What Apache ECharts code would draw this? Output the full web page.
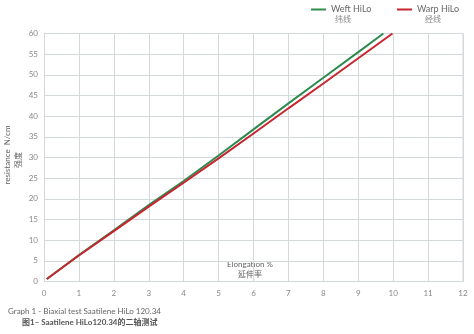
<!DOCTYPE html>
<html><head><meta charset="utf-8">
<script src="https://cdn.jsdelivr.net/npm/echarts@6/dist/echarts.min.js"></script>
<style>html,body{margin:0;padding:0;background:#fff}#c{width:474px;height:334px}</style>
</head><body><div id="c"></div>
<script>
var weftX = [0.08, 1, 2, 3, 4, 5, 6, 7, 8, 9, 9.72];
var weftY = [0.6, 6.4, 12.4, 18.5, 24.3, 30.5, 36.8, 43.1, 49.3, 55.5, 60];
var warpX = [0.08, 1, 2, 3, 4, 5, 6, 7, 8, 9, 9.98];
var warpY = [0.6, 6.3, 12.2, 18.1, 23.9, 29.8, 35.8, 41.9, 47.9, 54.0, 60];
var seriesNames = ['Weft HiLo', 'Warp HiLo'];
var seriesNamesZh = ['纬线', '经线'];
var xTitle = 'Elongation %';
var xTitleZh = '延伸率';
var yTitle = 'resistance  N/cm';
var yTitleZh = '强度';
var caption1 = 'Graph 1 - Biaxial test Saatilene HiLo 120.34';
var caption2 = '图1– Saatilene HiLo120.34的二轴测试';

function zip(a, b) { return a.map(function (v, i) { return [v, b[i]]; }); }
var font = 'Lato, "Noto Sans CJK SC", sans-serif';
var legendBase = {
  top: 0, itemWidth: 15, itemHeight: 2, icon: 'rect',
  textStyle: { color: '#666', fontSize: 9, fontFamily: font }
};
var chart = echarts.init(document.getElementById('c'));
chart.setOption({
  animation: false,
  textStyle: { fontFamily: font },
  grid: { left: 44, right: 11, top: 33.5, bottom: 52.5 },
  legend: [
    Object.assign({}, legendBase, { left: 306, data: [seriesNames[0]] }),
    Object.assign({}, legendBase, { left: 392, data: [seriesNames[1]] })
  ],
  xAxis: {
    type: 'value', min: 0, max: 12, interval: 1,
    axisLine: { show: false }, axisTick: { show: false },
    axisLabel: { color: '#888', fontSize: 8, margin: 8 },
    splitLine: { show: true, lineStyle: { color: '#d3d8da', width: 1 } }
  },
  yAxis: {
    type: 'value', min: 0, max: 60, interval: 5,
    axisLine: { show: false }, axisTick: { show: false },
    axisLabel: { color: '#888', fontSize: 8, margin: 6 },
    splitLine: { show: true, lineStyle: { color: '#d3d8da', width: 1 } }
  },
  graphic: [
    { type: 'line', shape: { x1: 463, y1: 33.5, x2: 463, y2: 281.5 }, style: { stroke: '#d3d8da', lineWidth: 1 } },
    { type: 'text', x: 343, y: 19, style: { text: seriesNamesZh[0], fill: '#888', font: '8px ' + font, align: 'center', verticalAlign: 'middle' } },
    { type: 'text', x: 433, y: 19, style: { text: seriesNamesZh[1], fill: '#888', font: '8px ' + font, align: 'center', verticalAlign: 'middle' } },
    { type: 'text', x: 250, y: 264, style: { text: xTitle, fill: '#666', font: '8px ' + font, align: 'center', verticalAlign: 'middle' } },
    { type: 'text', x: 250, y: 274, style: { text: xTitleZh, fill: '#666', font: '8px ' + font, align: 'center', verticalAlign: 'middle' } },
    { type: 'text', x: 7, y: 155, rotation: Math.PI / 2, style: { text: yTitle, fill: '#666', font: '8px ' + font, align: 'center', verticalAlign: 'middle' } },
    { type: 'text', x: 18, y: 160, rotation: Math.PI / 2, style: { text: yTitleZh, fill: '#666', font: '8px ' + font, align: 'center', verticalAlign: 'middle' } },
    { type: 'text', left: 8, top: 307, style: { text: caption1, fill: '#666', font: '8px ' + font } },
    { type: 'text', left: 22, top: 318, style: { text: caption2, fill: '#555', font: 'bold 8px ' + font } }
  ],
  series: [
    { name: seriesNames[0], type: 'line', data: zip(weftX, weftY), showSymbol: false, smooth: false,
      lineStyle: { color: '#2e8b4f', width: 2 }, itemStyle: { color: '#2e8b4f' } },
    { name: seriesNames[1], type: 'line', data: zip(warpX, warpY), showSymbol: false, smooth: false,
      lineStyle: { color: '#c8252f', width: 2 }, itemStyle: { color: '#c8252f' } }
  ]
});
</script></body></html>
